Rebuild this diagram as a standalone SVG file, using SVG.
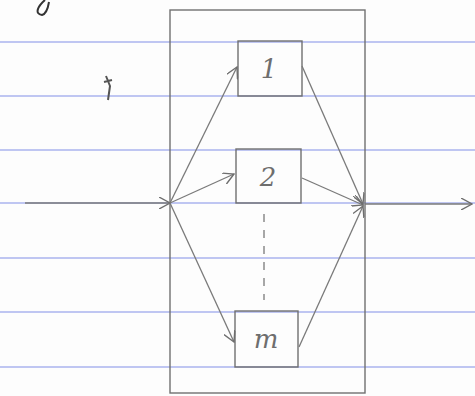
<svg xmlns="http://www.w3.org/2000/svg" width="475" height="396" viewBox="0 0 475 396">
<style>
.rule{stroke:#aab3ee;stroke-width:1.3}
.box{fill:none;stroke:#707070;stroke-width:1.4}
.ln{fill:none;stroke:#7a7a7a;stroke-width:1.3}
.lbl{font-family:"DejaVu Serif","Liberation Serif",serif;font-style:italic;font-size:26px;fill:#6e6e6e;text-anchor:middle}
</style>
<defs>
<marker id="ah" viewBox="0 0 12 12" refX="11" refY="6" markerWidth="12" markerHeight="12" markerUnits="userSpaceOnUse" orient="auto">
<path d="M0,0 L11,6 L0,12" fill="none" stroke="#6e6e6e" stroke-width="1.4"/>
</marker>
</defs>
<rect width="475" height="396" fill="#fdfdfd"/>
<g id="paper">
<line class="rule" x1="0" y1="42" x2="475" y2="42"/>
<line class="rule" x1="0" y1="96" x2="475" y2="96"/>
<line class="rule" x1="0" y1="150" x2="475" y2="150"/>
<line class="rule" x1="0" y1="203" x2="475" y2="203"/>
<line class="rule" x1="0" y1="258" x2="475" y2="258"/>
<line class="rule" x1="0" y1="312" x2="475" y2="312"/>
<line class="rule" x1="0" y1="367" x2="475" y2="367"/>
<path d="M45,0 C38,6 34,14 42,15 C46,14 48,8 49,2" fill="none" stroke="#333" stroke-width="2"/>
<path d="M106,76 L110,86 L108,100 M104,82 L112,80" fill="none" stroke="#555" stroke-width="2"/>
</g>
<g id="system"><rect class="box" x="170" y="10" width="195" height="383"/></g>
<g id="node1"><rect class="box" x="238" y="41" width="64" height="55"/><text class="lbl" x="269" y="78">1</text></g>
<g id="node2"><rect class="box" x="236" y="149" width="65" height="54"/><text class="lbl" x="268" y="186">2</text></g>
<g id="nodem"><rect class="box" x="235" y="311" width="63" height="56"/><text class="lbl" x="266" y="348">m</text></g>
<g id="connectors">
<line class="ln" x1="25" y1="203" x2="170" y2="203" marker-end="url(#ah)"/>
<line class="ln" x1="170" y1="203" x2="237" y2="67" marker-end="url(#ah)"/>
<line class="ln" x1="170" y1="203" x2="234" y2="174" marker-end="url(#ah)"/>
<line class="ln" x1="170" y1="203" x2="234" y2="342" marker-end="url(#ah)"/>
<line class="ln" x1="302" y1="66" x2="363" y2="204" marker-end="url(#ah)"/>
<line class="ln" x1="302" y1="178" x2="363" y2="205" marker-end="url(#ah)"/>
<line class="ln" x1="299" y1="347" x2="363" y2="206" marker-end="url(#ah)"/>
<line class="ln" x1="365" y1="204" x2="472" y2="204" marker-end="url(#ah)"/>
<line class="ln" x1="264" y1="214" x2="264" y2="300" stroke-dasharray="8,8"/>
</g>
</svg>
